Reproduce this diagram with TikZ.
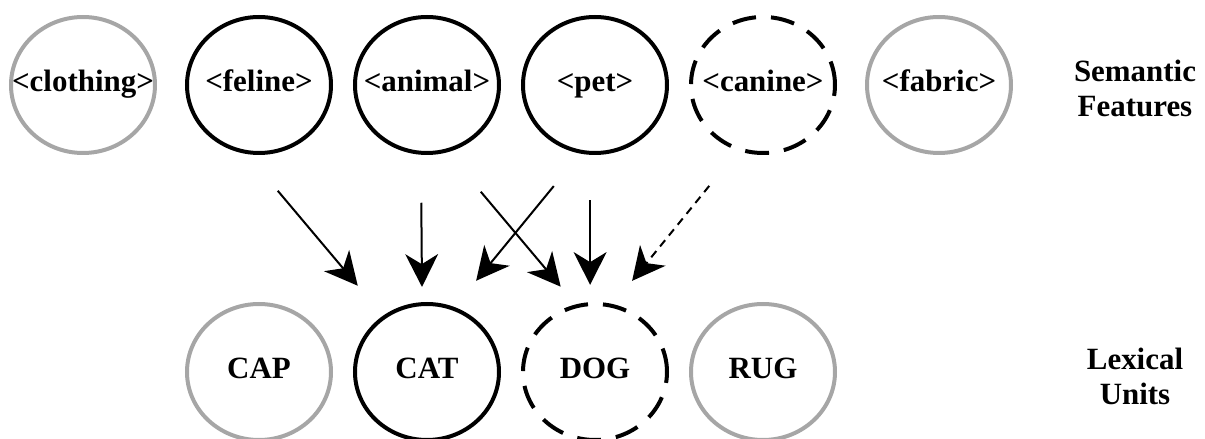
\documentclass[tikz,border=0pt]{standalone}
\usepackage{fontspec}
\setmainfont{Liberation Serif}
\usepackage{tikz}
\usetikzlibrary{shapes, arrows.meta}

\begin{document}
\begin{tikzpicture}[node distance = 4.2cm, auto, font=\fontsize{22}{25}\selectfont\bfseries]
	\tikzstyle{feature} = [ellipse, draw, line width=0.1cm, minimum width=3.6cm,
	minimum height=3.4cm, inner xsep=-0.6cm, inner ysep=0pt, text height=0.55cm, text depth=0.24cm]
	\tikzstyle{unused} = [feature, draw=black!35]
	\tikzstyle{guess} = [feature, dash pattern=on 0.6cm off 0.375cm]
	\tikzstyle{layer} = [align=center]
	\tikzstyle{line} = [draw, -{Stealth[length=0.82cm, width=0.82cm, inset=0.25cm]}, line width=0.05cm]
	\useasboundingbox (-6.475,2.125) rectangle (23.65,-8.85);
	% Place nodes
	\node [feature] (feline) {<feline>};
	\node [unused, left of=feline, node distance=4.4cm] (clothing) {<clothing>};
	\node [feature, right of=feline] (animal) {<animal>};
	\node [feature, right of=animal] (pet) {<pet>};
	\node [guess, right of=pet] (canine) {<canine>};
	\node [unused, right of=canine, node distance=4.4cm] (fabric) {<fabric>};
	\node [layer, right of=fabric, node distance=4.9cm, yshift=-0.08cm] (semantic) {Semantic\\Features};
	\node [unused, below of=feline, node distance=7.175cm] (cap) {CAP};
	\node [feature, right of=cap] (cat) {CAT};
	\node [guess, right of=cat] (dog) {DOG};
	\node [unused, right of=dog] (rug) {RUG};
	\node [layer, right of=rug, node distance=9.3cm, yshift=-0.1cm] (lexical) {Lexical\\Units};
	% Draw edges
	\path [line, shorten <=1.2cm, shorten >=0.98cm] (feline.-100) -- (cat.128);
	\path [line, shorten <=1.2cm, shorten >=0.38cm] (animal.-95) -- (cat.94);
	\path [line, shorten <=1.05cm, shorten >=0.85cm] (pet.-102) -- (cat.67);
	\path [line, shorten <=1.29cm, shorten >=0.58cm] (animal.-73.4) -- (dog.106.8);
	\path [line, shorten <=1.13cm, shorten >=0.43cm] (pet.-94) -- (dog.94);
	\path [line, dash pattern=on 0.2cm off 0.15cm, shorten <=1.13cm, shorten >=0.75cm] (canine.-111.2) -- (dog.75);
\end{tikzpicture}
\end{document}
